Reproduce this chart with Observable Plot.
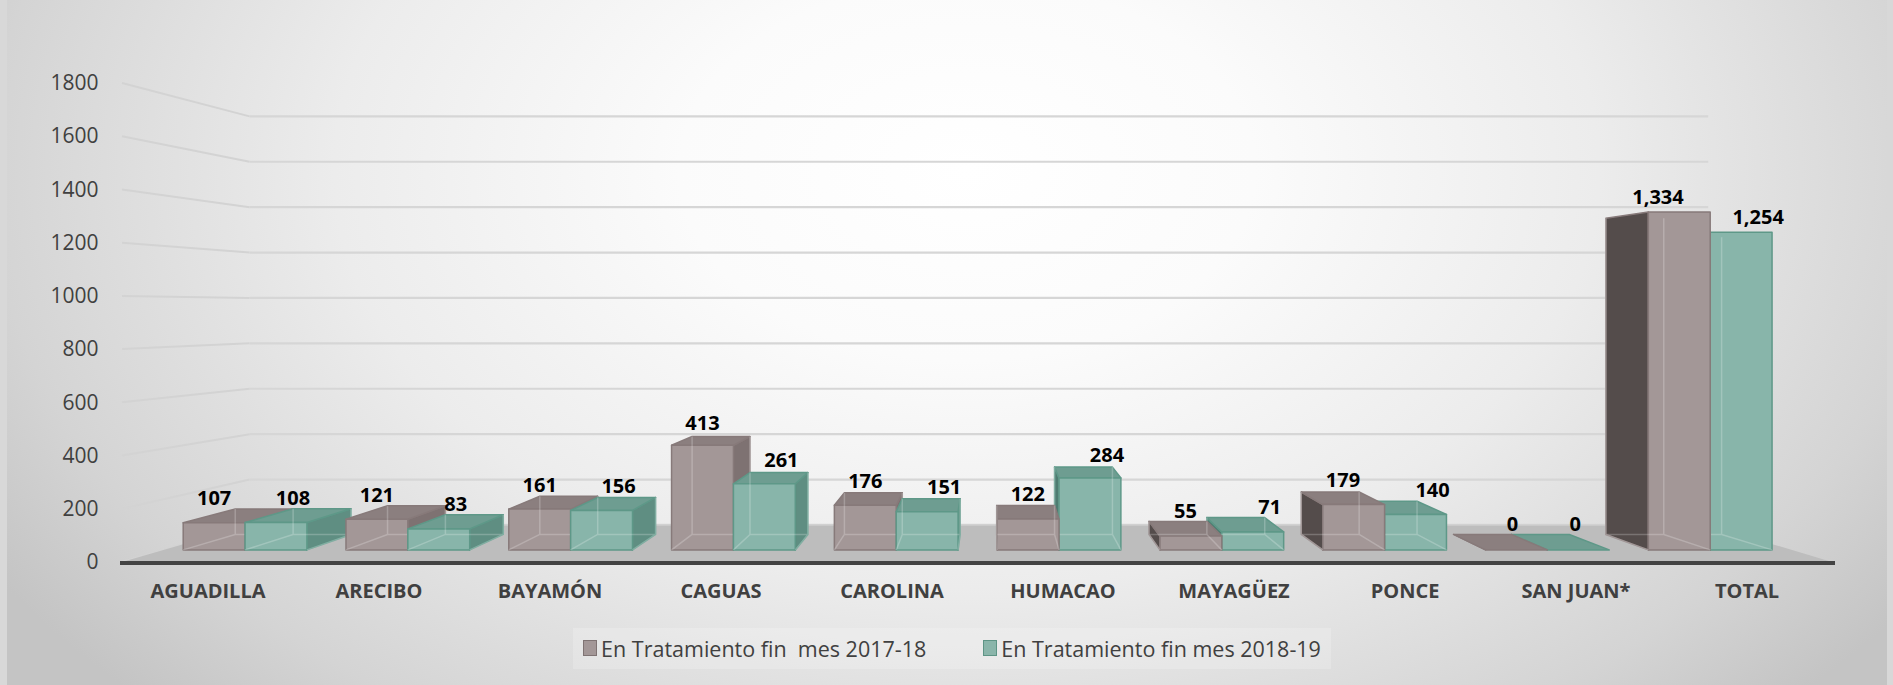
<!DOCTYPE html>
<html>
<head>
<meta charset="utf-8">
<script src="https://cdn.jsdelivr.net/npm/d3@7"></script>
<script src="https://cdn.jsdelivr.net/npm/@observablehq/plot@0.6"></script>
<style>
  body { margin: 0; background: #d8d8d8; }
  #wrap { position: relative; width: 1893px; height: 685px; overflow: hidden; background: #d8d8d8; font-family: "Open Sans", "Noto Sans", sans-serif; }
  #bg { position: absolute; left: 7px; top: 0; width: 1880px; height: 685px;
        background: radial-gradient(ellipse 1150px 760px at 960px 170px, #ffffff 0%, #fbfbfb 25%, #ececec 55%, #d4d4d4 85%, #c4c4c4 100%); }
  #chart { position: absolute; left: 0; top: 0; }
  #legend { position: absolute; left: 0; top: 620px; width: 1893px; height: 56px; display: flex; justify-content: center; align-items: center; }
  #legendbox { display: flex; align-items: center; gap: 57px; padding: 6px 10px; margin-left: 11px; background: rgba(255,255,255,0.2); }
  .item { display: flex; align-items: center; font-size: 21.5px; color: #404040; white-space: pre; }
  .sw { width: 12px; height: 14px; margin-right: 4px; border: 1.5px solid; }
</style>
</head>
<body>
<div id="wrap">
  <div id="bg"></div>
  <div id="chart"></div>
  <div id="legend"><div id="legendbox"></div></div>
</div>
<script>
// ---------- data ----------
const categories = ["AGUADILLA", "ARECIBO", "BAYAMÓN", "CAGUAS", "CAROLINA", "HUMACAO", "MAYAGÜEZ", "PONCE", "SAN JUAN*", "TOTAL"];
const values2017 = [107, 121, 161, 413, 176, 122, 55, 179, 0, 1334];
const values2018 = [108, 83, 156, 261, 151, 284, 71, 140, 0, 1254];
const seriesNames = ["En Tratamiento fin  mes 2017-18", "En Tratamiento fin mes 2018-19"];
const yTicks = [0, 200, 400, 600, 800, 1000, 1200, 1400, 1600, 1800];

const rows = [];
categories.forEach((c, k) => {
  rows.push({cat: c, s: 0, value: values2017[k]});
  rows.push({cat: c, s: 1, value: values2018[k]});
});

// ---------- styling / perspective ----------
const VP = [990, 310];          // vanishing point
const D_WALL = 0.147, D_FRONT = 0.048, D_BACK = 0.1094;
const proj = ([x, y], d) => [x + (VP[0] - x) * d, y + (VP[1] - y) * d];
const pal = [
  {front: "#a39797", top: "#8b7f7f", right: "#7e7272", left: "#544c4b", stroke: "#877a7a", sw: "#a39797", swb: "#7f7373"},
  {front: "#88b5aa", top: "#6e9d91", right: "#5f8e82", left: "#4e7c71", stroke: "#5e9888", sw: "#8ab5aa", swb: "#5e9485"}
];
const fmt = d3.format(",");
const poly = pts => "M" + pts.map(p => p.join(",")).join("L") + "Z";

function gridRender(index, scales, values, dim) {
  const g = d3.create("svg:g");
  const x0 = dim.marginLeft, x1 = dim.width - dim.marginRight;
  for (const i of index) {
    const y = scales.y(yTicks[i]);
    const a = [x0, y], b = proj([x0, y], D_WALL), c = proj([x1, y], D_WALL);
    g.append("path").attr("d", `M${a}L${b}`)
      .attr("fill", "none").attr("stroke", "#d3d3d3").attr("stroke-width", 2);
    g.append("path").attr("d", `M${b}L${c}`)
      .attr("fill", "none").attr("stroke", "#d6d6d6").attr("stroke-width", 2.2);
  }
  return g.node();
}

function floorRender(index, scales, values, dim) {
  const g = d3.create("svg:g");
  const x0 = dim.marginLeft, x1 = dim.width - dim.marginRight;
  const y = scales.y(0);
  const pts = [[x0, y], [x1, y], proj([x1, y], D_WALL), proj([x0, y], D_WALL)];
  g.append("path").attr("d", poly(pts)).attr("fill", "#bdbdbd");
  g.append("path").attr("d", `M${proj([x0, y], D_WALL)}L${proj([x1, y], D_WALL)}`)
    .attr("stroke", "#cfcfcf").attr("stroke-width", 1.5);
  g.append("line").attr("x1", x0 - 2).attr("x2", x1 + 3).attr("y1", y + 1).attr("y2", y + 1)
    .attr("stroke", "#434343").attr("stroke-width", 4);
  return g.node();
}

function barsRender(index, scales, values, dim) {
  const g = d3.create("svg:g");
  const bw = scales.x.bandwidth ? scales.x.bandwidth() : (dim.width - dim.marginLeft - dim.marginRight) / categories.length;
  const inner = bw * 0.76, w = inner / 2, pad = (bw - inner) / 2;
  const items = [];
  for (const i of index) {
    const r = rows[i];
    const xb = scales.x(r.cat) + pad + r.s * w;
    const yt = scales.y(r.value), yb = scales.y(0);
    const rect = [[xb, yt], [xb + w, yt], [xb + w, yb], [xb, yb]];
    const F = rect.map(p => proj(p, D_FRONT));
    const B = rect.map(p => proj(p, D_BACK));
    items.push({r, F, B, dist: Math.abs((F[0][0] + F[1][0]) / 2 - VP[0])});
  }
  items.sort((a, b) => b.dist - a.dist);
  for (const {r, F, B} of items) {
    const c = pal[r.s];
    const bar = g.append("g").attr("stroke", c.stroke).attr("stroke-width", 1.5).attr("stroke-linejoin", "round");
    if (B[0][0] < F[0][0]) bar.append("path").attr("d", poly([F[0], B[0], B[3], F[3]])).attr("fill", c.left);
    if (B[1][0] > F[1][0]) bar.append("path").attr("d", poly([F[1], B[1], B[2], F[2]])).attr("fill", c.right);
    if (B[0][1] < F[0][1]) bar.append("path").attr("d", poly([F[0], F[1], B[1], B[0]])).attr("fill", c.top);
    if (r.value > 0) {
      bar.append("path").attr("d", poly(F)).attr("fill", c.front);
      // glass: hidden edges seen through the front face
      bar.append("path")
        .attr("d", `M${B[0]}L${B[3]}L${B[2]}L${B[1]}M${F[3]}L${B[3]}M${F[2]}L${B[2]}`)
        .attr("fill", "none").attr("stroke", "#ffffff").attr("stroke-opacity", 0.22).attr("stroke-width", 1.5);
    }
  }
  // value labels
  for (const {r, F, B} of items) {
    let lx;
    if (r.s === 0) lx = r.value > 0 ? (Math.min(F[0][0], B[0][0]) + F[1][0]) / 2 : (F[0][0] + F[1][0]) / 2 - 4;
    else lx = (F[0][0] + F[1][0]) / 2 + (r.value > 0 ? 17 : -3);
    const ly = (F[0][1] + B[0][1]) / 2 - 11;
    g.append("text").attr("x", lx).attr("y", ly).attr("text-anchor", "middle")
      .attr("font-size", 20).attr("font-weight", "bold").attr("fill", "#000")
      .attr("font-family", "Open Sans, Noto Sans, sans-serif")
      .text(fmt(r.value));
  }
  return g.node();
}

const chart = Plot.plot({
  width: 1893,
  height: 620,
  marginLeft: 122,
  marginRight: 61,
  marginTop: 83,
  marginBottom: 58,
  style: {background: "transparent", fontFamily: "Open Sans, Noto Sans, sans-serif", overflow: "visible"},
  x: {type: "band", domain: categories, padding: 0, label: null},
  y: {domain: [0, 1800], label: null},
  marks: [
    Plot.ruleY(yTicks, {y: d => d, render: gridRender}),
    Plot.ruleY([0], {y: d => d, render: floorRender}),
    Plot.barY(rows, {x: "cat", y: "value", render: barsRender}),
    Plot.axisX({tickSize: 0, tickPadding: 21, fontSize: 20, fontWeight: "bold", fill: "#404040", label: null}),
    Plot.axisY({ticks: yTicks, tickSize: 0, tickPadding: 24, fontSize: 21, fill: "#404040", label: null, tickFormat: d => String(d)})
  ]
});
document.getElementById("chart").appendChild(chart);

// legend
const lb = document.getElementById("legendbox");
seriesNames.forEach((name, k) => {
  const it = document.createElement("div");
  it.className = "item";
  const sw = document.createElement("span");
  sw.className = "sw";
  sw.style.background = pal[k].sw;
  sw.style.borderColor = pal[k].swb;
  it.appendChild(sw);
  const t = document.createElement("span");
  t.textContent = name;
  it.appendChild(t);
  lb.appendChild(it);
});
</script>
</body>
</html>
